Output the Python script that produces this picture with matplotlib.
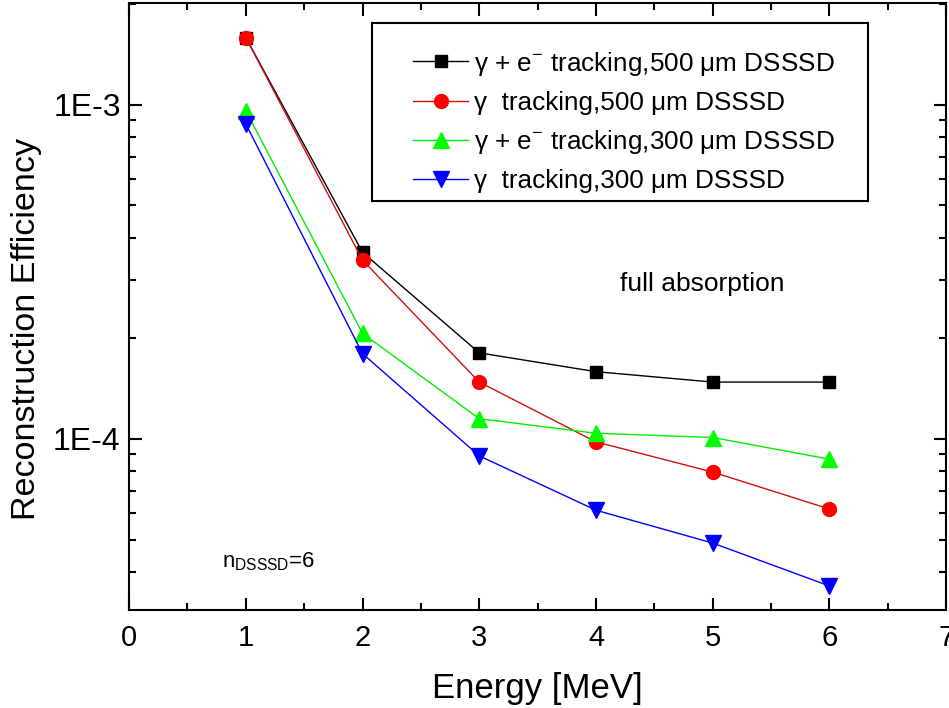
import numpy as np
import matplotlib.pyplot as plt
from matplotlib.patches import Rectangle
from matplotlib.ticker import LogLocator, FixedLocator, NullFormatter, MultipleLocator

plt.rcParams['font.family'] = ['Liberation Sans', 'DejaVu Sans']
plt.rcParams['mathtext.fontset'] = 'custom'
plt.rcParams['mathtext.rm'] = 'Liberation Sans'

# Values
energy = [1, 2, 3, 4, 5, 6]
gamma_e_500 = [1.59e-3, 3.62e-4, 1.81e-4, 1.59e-4, 1.48e-4, 1.48e-4]
gamma_500 = [1.59e-3, 3.43e-4, 1.48e-4, 9.8e-5, 7.96e-5, 6.17e-5]
gamma_e_300 = [9.6e-4, 2.07e-4, 1.15e-4, 1.04e-4, 1.01e-4, 8.7e-5]
gamma_300 = [8.77e-4, 1.80e-4, 8.9e-5, 6.12e-5, 4.88e-5, 3.63e-5]

labels = ['\u03b3 + e$^{-}$ tracking,500 \u03bcm DSSSD',
          '\u03b3  tracking,500 \u03bcm DSSSD',
          '\u03b3 + e$^{-}$ tracking,300 \u03bcm DSSSD',
          '\u03b3  tracking,300 \u03bcm DSSSD']

fig = plt.figure(figsize=(9.49, 7.08), dpi=100)
ax = fig.add_axes([0.136, 0.138, 0.861, 0.858])

ax.plot(energy, gamma_e_500, color='black', lw=1, marker='s', ms=9,
        mfc='black', mec='black', label=labels[0])
ax.plot(energy, gamma_500, color='#d01010', lw=1, marker='o', ms=10,
        mfc='red', mec='red', label=labels[1])
ax.plot(energy, gamma_e_300, color='#00ee00', lw=1, marker='^', ms=11,
        mfc='#00ff00', mec='#00ff00', label=labels[2])
ax.plot(energy, gamma_300, color='blue', lw=1, marker='v', ms=11,
        mfc='blue', mec='blue', label=labels[3])

ax.set_yscale('log')
ax.set_xlim(0, 7)
ax.set_ylim(3.07e-5, 2.02e-3)

ax.xaxis.set_major_locator(MultipleLocator(1))
ax.xaxis.set_minor_locator(MultipleLocator(0.5))
ax.yaxis.set_major_locator(FixedLocator([1e-4, 1e-3]))
ax.yaxis.set_minor_locator(LogLocator(base=10, subs=np.arange(2, 10)))
ax.yaxis.set_minor_formatter(NullFormatter())
ax.set_yticklabels(['1E-4', '1E-3'])

ax.tick_params(which='both', direction='in', top=True, right=True, width=1.5)
ax.tick_params(which='major', length=9)
ax.tick_params(which='minor', length=5)
ax.tick_params(axis='y', labelsize=23, pad=6)
ax.tick_params(axis='x', labelsize=21, pad=10)
for sp in ax.spines.values():
    sp.set_linewidth(1.5)

ax.set_xlabel('Energy [MeV]', fontsize=25, labelpad=14)
ax.set_ylabel('Reconstruction Efficiency', fontsize=24.5, labelpad=8, y=0.463)

ax.text(4.21, 2.9e-4, 'full absorption', fontsize=19, ha='left', va='center')
ax.text(0.8, 4.3e-5, 'n$_{\\mathregular{DSSSD}}$=6', fontsize=16, ha='left', va='center')

# legend box drawn separately, entries without frame
ax.add_patch(Rectangle((0.2974, 0.674), 0.6071, 0.293, transform=ax.transAxes,
                       fill=True, facecolor='white', edgecolor='black',
                       lw=1.5, zorder=4))
leg = ax.legend(loc='upper left', bbox_to_anchor=(0.3476, 0.923), fontsize=18.8,
                frameon=False, handlelength=2.1, handletextpad=0.25,
                borderpad=0, labelspacing=0.5, borderaxespad=0)
leg.set_zorder(5)

fig.savefig('out.png', dpi=100)
